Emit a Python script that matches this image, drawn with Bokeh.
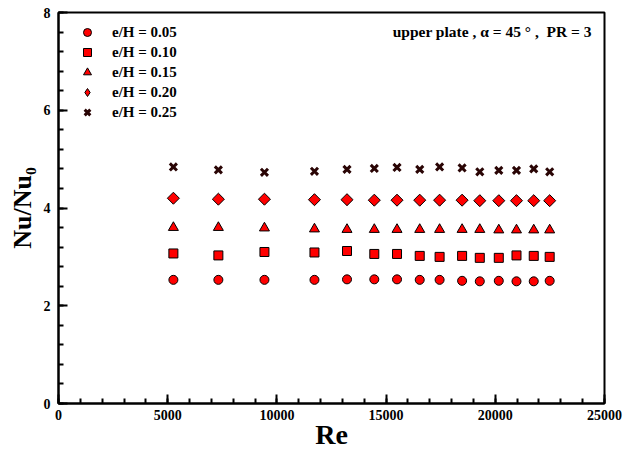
import math
from bokeh.plotting import figure
from bokeh.models import Legend, LegendItem, Range1d, SingleIntervalTicker, Label
from bokeh.embed import file_html
from bokeh.resources import INLINE

# ---- data ----
re_vals = [5260, 7320, 9430, 11720, 13210, 14460, 15500, 16540, 17450, 18480,
           19290, 20160, 20970, 21760, 22490]
nu_005 = [2.53, 2.53, 2.53, 2.53, 2.54, 2.54, 2.54, 2.53, 2.53, 2.51, 2.50, 2.51, 2.50, 2.50, 2.51]
nu_010 = [3.07, 3.03, 3.10, 3.09, 3.12, 3.06, 3.06, 3.02, 3.00, 3.02, 2.98, 2.98, 3.03, 3.02, 3.00]
nu_015 = [3.60, 3.60, 3.59, 3.57, 3.56, 3.56, 3.56, 3.56, 3.56, 3.56, 3.56, 3.55, 3.55, 3.55, 3.55]
nu_020 = [4.20, 4.18, 4.18, 4.17, 4.17, 4.16, 4.16, 4.16, 4.16, 4.16, 4.15, 4.15, 4.15, 4.15, 4.15]
nu_025 = [4.84, 4.78, 4.73, 4.75, 4.79, 4.81, 4.83, 4.79, 4.84, 4.82, 4.74, 4.77, 4.77, 4.80, 4.74]
series_labels = ["e/H = 0.05", "e/H = 0.10", "e/H = 0.15", "e/H = 0.20", "e/H = 0.25"]
x_title = "Re"
y_title = "Nu/Nu\u2080"
note = "upper plate , \u03b1 = 45 \u00b0 ,\u00a0\u00a0PR = 3"

FONT = "Liberation Serif"
RED = "#ff0000"

p = figure(width=638, height=452, output_backend="svg", toolbar_location=None,
           x_range=Range1d(0, 25000), y_range=Range1d(0, 8),
           min_border_left=58, min_border_right=34, min_border_top=12, min_border_bottom=48)
p.background_fill_color = "white"
p.border_fill_color = "white"
p.outline_line_color = "black"
p.outline_line_width = 2
p.xgrid.visible = False
p.ygrid.visible = False

p.xaxis.ticker = SingleIntervalTicker(interval=5000, num_minor_ticks=5)
p.yaxis.ticker = SingleIntervalTicker(interval=2, num_minor_ticks=5)
for ax in (p.xaxis, p.yaxis):
    ax.axis_line_width = 2
    ax.axis_line_color = "black"
    ax.major_tick_in = 9
    ax.major_tick_out = 0
    ax.minor_tick_in = 5
    ax.minor_tick_out = 0
    ax.major_tick_line_width = 2
    ax.minor_tick_line_width = 2
    ax.major_label_text_font = FONT
    ax.major_label_text_font_style = "bold"
    ax.major_label_text_font_size = "14px"
    ax.major_label_text_color = "black"
    ax.axis_label_text_font = FONT
    ax.axis_label_text_font_style = "bold"
    ax.axis_label_text_color = "black"

p.xaxis.major_label_standoff = 6
p.yaxis.major_label_standoff = 8
p.xaxis.axis_label = x_title
p.xaxis.axis_label_text_font_size = "28px"
p.xaxis.axis_label_standoff = -4
p.yaxis.axis_label = y_title
p.yaxis.axis_label_text_font_size = "26px"
p.yaxis.axis_label_standoff = 4

r1 = p.scatter(re_vals, nu_005, marker="circle", size=9, fill_color=RED, line_color="black", line_width=1)
r2 = p.scatter(re_vals, nu_010, marker="square", size=9, fill_color=RED, line_color="black", line_width=1)
r3 = p.scatter(re_vals, nu_015, marker="triangle", size=10, fill_color=RED, line_color="black", line_width=1)
# diamond renderer (used by the legend), covered by the rotated squares drawn on top
r4_leg = p.scatter(re_vals, nu_020, marker="diamond", size=10, fill_color=RED,
                   line_color="black", line_width=1)
r4 = p.scatter(re_vals, nu_020, marker="square", angle=math.pi / 4, size=8.5,
               fill_color=RED, line_color="black", line_width=1)
r5 = p.scatter(re_vals, nu_025, marker="x", size=10, line_color="#2a0505", line_width=3)

legend = Legend(items=[LegendItem(label=l, renderers=[r]) for l, r in
                       zip(series_labels, [r1, r2, r3, r4_leg, r5])],
                location=(19, 281), orientation="vertical",
                background_fill_alpha=0, border_line_alpha=0,
                padding=0, margin=0, spacing=0, glyph_height=20, glyph_width=20,
                label_height=20, label_standoff=15,
                label_text_font=FONT, label_text_font_style="bold",
                label_text_font_size="15px", label_text_color="black")
p.add_layout(legend)

p.add_layout(Label(x=15300, y=7.62, text=note,
                   text_font=FONT, text_font_style="bold", text_font_size="15.5px",
                   text_baseline="middle", text_align="left", text_color="black"))

open("out.html", "w").write(file_html(p, INLINE))
